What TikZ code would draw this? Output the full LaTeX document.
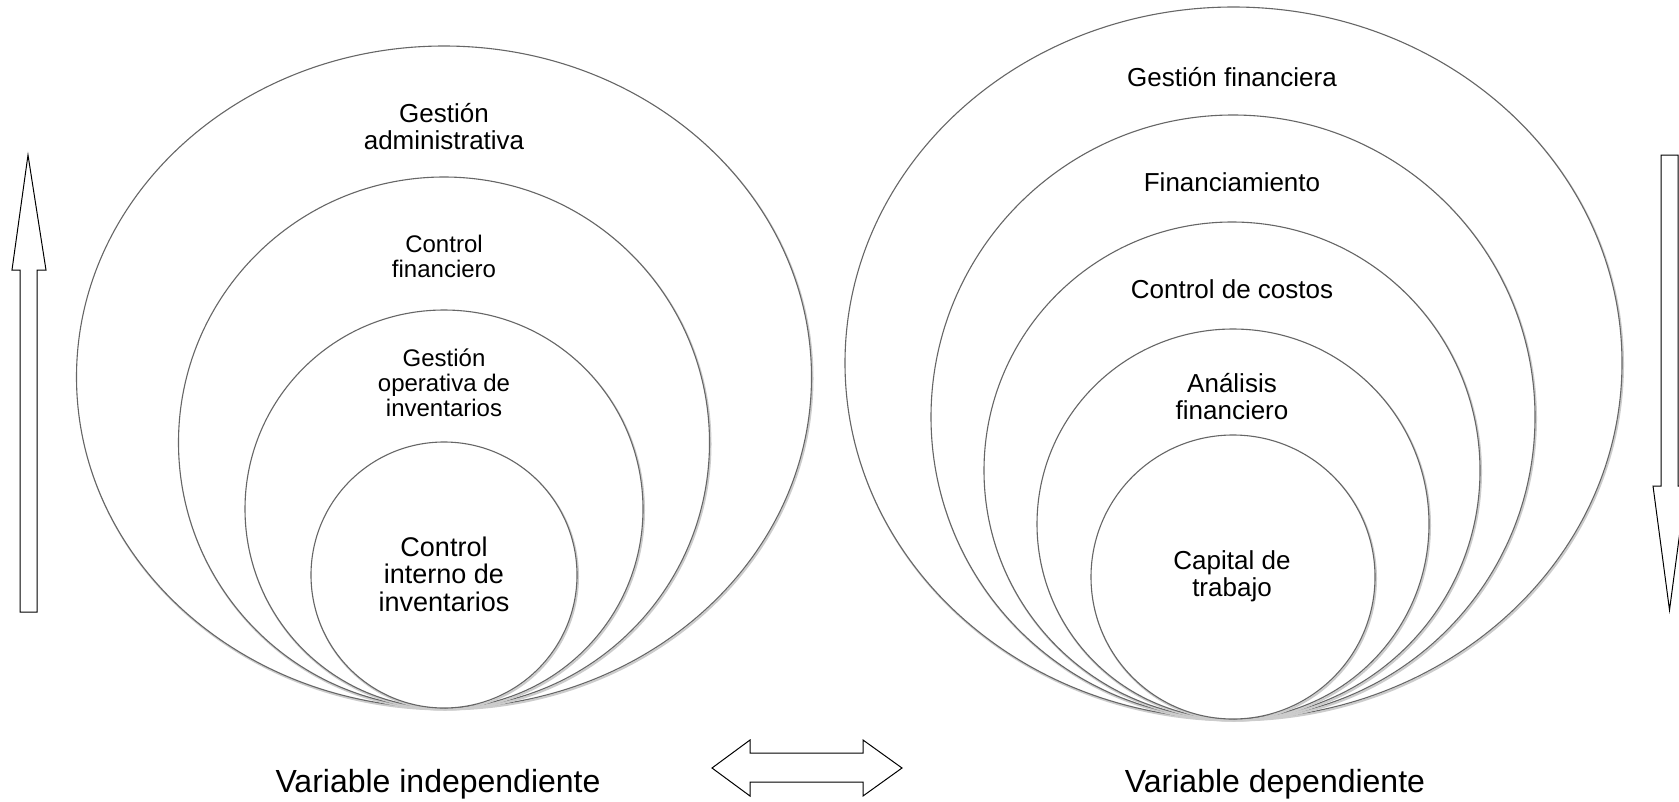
\documentclass[tikz,border=0pt]{standalone}
\usepackage{fontspec}
\setmainfont{Liberation Sans}
\usepackage{tikz}
\usetikzlibrary{positioning}
\tikzstyle{ring} = [draw=black!60, line width=1.1pt, fill=white]
\tikzstyle{ringshadow} = [draw=black!20, line width=2pt]
\tikzstyle{blockarrow} = [draw=black, line width=1pt, fill=white, line join=miter]
\tikzstyle{lbl} = [align=center, inner sep=0pt, font=\fontsize{26}{27}\selectfont]
\tikzstyle{lblbig} = [align=center, inner sep=0pt, font=\fontsize{27}{27.5}\selectfont]
\tikzstyle{lblsmall} = [align=center, inner sep=0pt, font=\fontsize{24}{25}\selectfont]
\tikzstyle{vartext} = [anchor=base, inner sep=0pt, font=\fontsize{32}{32}\selectfont]

\begin{document}
\begin{tikzpicture}[x=1pt, y=-1pt]
    \useasboundingbox (0,0) rectangle (1679,801);

    % left rings
    \foreach \cx/\cy/\rx/\ry in {444/377/367.5/331, 444/442.5/265.5/265.5, 444/509/199/199, 444/575/133/133}{
        \draw[ringshadow] (\cx+1,\cy+1.5) ellipse (\rx pt and \ry pt);
        \draw[ring] (\cx,\cy) ellipse (\rx pt and \ry pt);
    }
    % right rings
    \foreach \cx/\cy/\rx/\ry in {1233.5/363/388.5/356, 1233/417/302/302, 1232/470.5/248/248.5, 1233/524/196/195, 1233/577/142/142}{
        \draw[ringshadow] (\cx+1,\cy+1.5) ellipse (\rx pt and \ry pt);
        \draw[ring] (\cx,\cy) ellipse (\rx pt and \ry pt);
    }

    \node[lbl] (gadm) at (444,127) {Gestión\\administrativa};
    \node[lblsmall] (cfin) at (444,256) {Control\\financiero};
    \node[lblsmall] (gope) at (444,383) {Gestión\\operativa de\\inventarios};
    \node[lblbig] (cint) at (444,574) {Control\\interno de\\inventarios};

    \node[lbl] (gfin) at (1232,77) {Gestión financiera};
    \node[lbl] (fina) at (1232,182) {Financiamiento};
    \node[lbl] (ccos) at (1232,289) {Control de costos};
    \node[lbl] (anfi) at (1232,397) {Análisis\\financiero};
    \node[lbl] (capt) at (1232,576) {Capital de\\trabajo};

    \node[vartext] (vind) at (438,792) {Variable independiente};
    \node[vartext] (vdep) at (1275,792) {Variable dependiente};

    % block arrows
    \draw[blockarrow] (20,612) -- (20,270) -- (12,270) -- (28,155) -- (46,270) -- (37,270) -- (37,612) -- cycle;
    \draw[blockarrow] (1661,155) -- (1661,486) -- (1653,486) -- (1669.5,610) -- (1686,486) -- (1678,486) -- (1678,155) -- cycle;
    \draw[blockarrow] (712,768) -- (750,740) -- (750,753) -- (863,753) -- (863,740) -- (902,768) -- (863,796) -- (863,782) -- (750,782) -- (750,796) -- cycle;
\end{tikzpicture}
\end{document}
